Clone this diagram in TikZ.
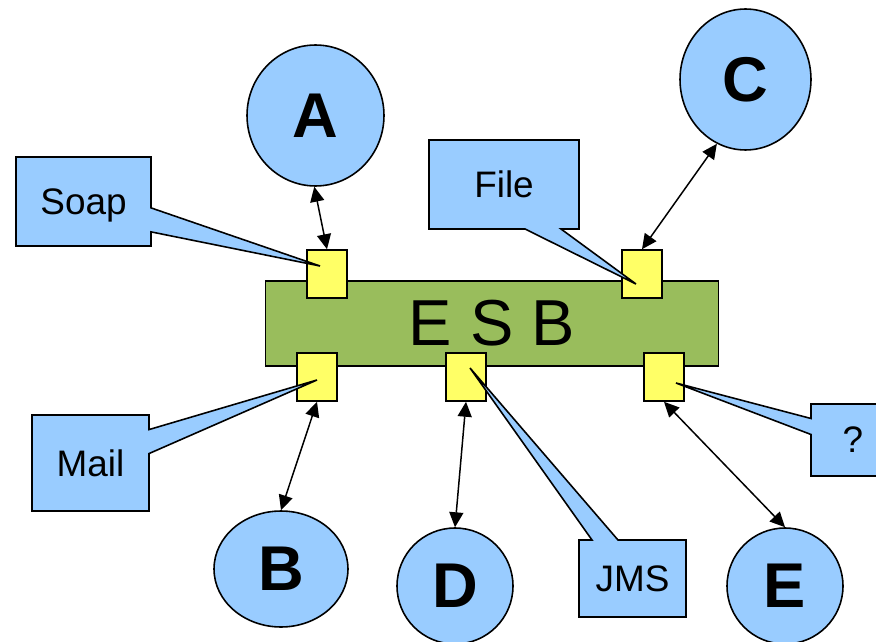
\documentclass[tikz,border=0pt]{standalone}
\usepackage{fontspec}
\setmainfont{Liberation Sans}
\usetikzlibrary{calc,shapes.geometric,shapes.callouts,arrows.meta}
\definecolor{busgreen}{RGB}{153,189,92}
\definecolor{portyellow}{RGB}{255,255,102}
\definecolor{appblue}{RGB}{153,204,255}
\def\labelfont{\fontsize{21}{25}\selectfont}
\tikzset{
	bus/.style={draw, line width=0.9pt, fill=busgreen, inner sep=0pt, font=\fontsize{37}{44}\selectfont},
	port/.style={draw, line width=0.9pt, fill=portyellow, minimum width=0.8cm, minimum height=0.96cm, inner sep=0pt},
	app/.style={ellipse, draw, line width=0.9pt, fill=appblue, inner sep=0pt, font=\fontsize{36}{43}\selectfont\bfseries},
	proto/.style={rectangle callout, draw, line width=0.9pt, fill=appblue, inner sep=0pt, text depth=0pt, callout pointer width=0.48cm, font=\labelfont},
	link/.style={line width=0.85pt, {Triangle[length=8.5pt,width=8pt]}-{Triangle[length=8.5pt,width=8pt]}}
}

\begin{document}
\begin{tikzpicture}[x=0.02cm, y=-0.02cm]
			%%%%% START %%%%%
			\useasboundingbox (0, 0) rectangle (876, 642);
			\clip (0, 0) rectangle (876, 642);
			
			\node[bus, minimum width=9.06cm, minimum height=1.7cm] (esb) at (492, 323.5) {E S B};
			
			\node[port] (soapport) at (327, 274) {};
			\node[port] (fileport) at (642, 274) {};
			\node[port] (mailport) at (317, 377) {};
			\node[port] (jmsport) at (466, 377) {};
			\node[port] (qport) at (664, 377) {};
			
			\node[proto, minimum width=2.7cm, minimum height=1.78cm, callout absolute pointer={($(soapport)+(-7,-8)$)}] (soap) at (83.5, 201.5) {Soap};
			\node[proto, minimum width=3cm, minimum height=1.78cm, callout pointer width=0.72cm, callout absolute pointer={($(fileport)+(-6,10)$)}] (file) at (504, 184.5) {File};
			\node[proto, minimum width=2.34cm, minimum height=1.92cm, callout absolute pointer={($(mailport)+(0,3)$)}] (mail) at (90.5, 463) {Mail};
			\node[proto, minimum width=2.14cm, minimum height=1.54cm, callout pointer width=0.52cm, callout absolute pointer={($(jmsport)+(4,-9)$)}] (jms) at (632.5, 578.5) {JMS};
			\node[proto, minimum width=1.68cm, minimum height=1.44cm, callout pointer width=0.32cm, callout absolute pointer={($(qport)+(12,6)$)}] (q) at (853, 440) {?};
			
			\node[app, minimum width=2.74cm, minimum height=2.82cm] (A) at (315.5, 115.5) {A};
			\node[app, minimum width=2.62cm, minimum height=2.82cm] (C) at (745.5, 79.5) {C};
			\node[app, minimum width=2.68cm, minimum height=2.32cm] (B) at (281, 569) {B};
			\node[app, minimum width=2.32cm, minimum height=2.32cm] (D) at (455, 586) {D};
			\node[app, minimum width=2.32cm, minimum height=2.32cm] (E) at (785, 586) {E};
			
			\draw[link] (A.269) -- (soapport.north);
			\draw[link] (C.246) -- (fileport.north);
			\draw[link] (B.north) -- (mailport.south);
			\draw[link] (D.north) -- (jmsport.south);
			\draw[link] (E.north) -- (qport.south);
			
			%%%%% END %%%%%
\end{tikzpicture}
\end{document}
